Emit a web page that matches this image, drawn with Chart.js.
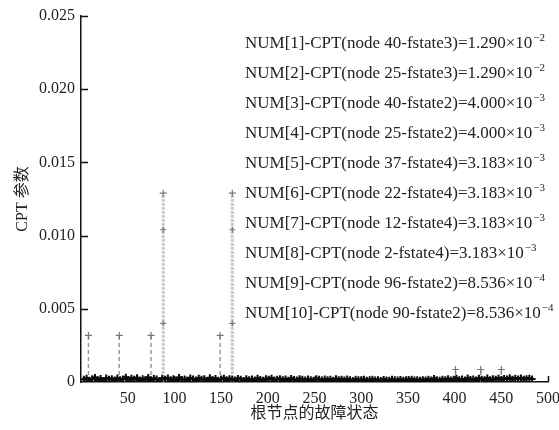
<!DOCTYPE html>
<html lang="zh">
<head>
    <meta charset="utf-8">
    <title>CPT 参数</title>
    <script src="https://cdn.jsdelivr.net/npm/chart.js"></script>
    <style>
        html, body { margin: 0; padding: 0; background: #fff; }
        #cptChart { display: block; }
    </style>
</head>
<body>
<canvas id="cptChart" width="559" height="430"></canvas>
<script>
    // states of the root node that carry a clear CPT peak
    const spikeStates = [8, 41, 75, 88, 149, 162, 401, 428, 450];
    const spikeCPT = [3.183e-3, 3.183e-3, 3.183e-3, 1.290e-2, 3.183e-3, 1.290e-2, 8.536e-4, 8.536e-4, 8.536e-4];
    // second marker sitting on the two big stems
    const midStates = [88, 88, 162, 162];
    const midCPT = [4.000e-3, 1.040e-2, 4.000e-3, 1.040e-2];

    // the dense band of small values near zero (one reading every 3 states, units of 1e-4)
    const baseStep = 3;
    const baseCPT = [
        1.8, 2.6, 1.2, 2.2, 3.0, 1.5, 2.4, 1.1, 2.8, 1.9,
        2.3, 1.4, 2.7, 1.6, 2.1, 3.2, 1.3, 2.5, 1.8, 2.9,
        1.2, 2.2, 1.7, 3.1, 1.4, 2.4, 2.0, 1.1, 2.6, 1.9,
        2.8, 1.5, 2.3, 1.2, 3.0, 1.7, 2.1, 1.4, 2.7, 2.0,
        1.3, 2.5, 1.8, 2.2, 1.1, 2.9, 1.6, 2.4, 1.2, 2.0,
        2.6, 1.5, 2.2, 1.8, 1.3, 2.4, 1.9, 1.1, 2.3, 1.6,
        2.0, 1.4, 2.5, 1.7, 1.2, 2.2, 1.8, 2.6, 1.3, 1.9,
        2.3, 1.5, 2.1, 1.2, 2.4, 1.7, 1.4, 2.2, 1.9, 1.3,
        2.0, 1.6, 1.2, 2.3, 1.8, 1.4, 2.1, 1.5, 1.9, 1.2,
        2.2, 1.6, 1.8, 1.3, 2.0, 1.5, 1.1, 1.9, 1.6, 1.3,
        1.8, 1.2, 1.5, 1.9, 1.3, 1.6, 1.1, 1.7, 1.4, 1.2,
        1.8, 1.5, 1.3, 1.7, 1.2, 1.6, 1.4, 1.9, 1.3, 1.5,
        1.2, 1.6, 1.4, 1.8, 1.3, 2.4, 1.5, 1.2, 1.9, 1.6,
        2.2, 1.4, 1.8, 2.6, 1.5, 2.0, 1.3, 2.7, 1.7, 2.1,
        1.4, 2.5, 1.9, 1.6, 2.8, 1.5, 2.2, 1.8, 2.6, 1.7,
        2.4, 2.0, 2.9, 1.8, 2.5, 2.1, 2.7, 1.9, 2.3, 2.6,
        2.0
    ];

    // right-hand text list
    const legendNodes = ['node 40-fstate3', 'node 25-fstate3', 'node 40-fstate2', 'node 25-fstate2', 'node 37-fstate4',
                         'node 22-fstate4', 'node 12-fstate4', 'node 2-fstate4', 'node 96-fstate2', 'node 90-fstate2'];
    const legendValues = ['1.290', '1.290', '4.000', '4.000', '3.183', '3.183', '3.183', '3.183', '8.536', '8.536'];
    const legendExps = ['\u22122', '\u22122', '\u22123', '\u22123', '\u22123', '\u22123', '\u22123', '\u22123', '\u22124', '\u22124'];

    const yTicks = [0, 0.005, 0.010, 0.015, 0.020, 0.025];
    const xTicks = [50, 100, 150, 200, 250, 300, 350, 400, 450, 500];

    const serif = "'Liberation Serif', 'Noto Sans CJK SC', serif";

    // build stem data: (x,0) -> (x,h) then a gap
    function stems(keep) {
        const pts = [];
        spikeStates.forEach((s, i) => {
            if (!keep(spikeCPT[i])) return;
            pts.push({x: s, y: 0}, {x: s, y: spikeCPT[i]}, {x: s, y: null});
        });
        return pts;
    }
    const baseData = baseCPT.map((v, i) => ({x: (i + 1) * baseStep, y: v * 1e-4}));
    const midData = midStates.map((s, i) => ({x: s, y: midCPT[i]}));

    // inward tick marks + the text list
    const extras = {
        id: 'extras',
        afterDraw(chart) {
            const c = chart.ctx;
            const xs = chart.scales.x, ys = chart.scales.y;
            const area = chart.chartArea;
            c.save();
            c.strokeStyle = '#111';
            c.lineWidth = 1.5;
            yTicks.forEach(v => {
                if (v === 0) return;
                const y = Math.round(ys.getPixelForValue(v)) + 0.5;
                c.beginPath(); c.moveTo(area.left, y); c.lineTo(area.left + 7, y); c.stroke();
            });
            xTicks.forEach(v => {
                const x = Math.round(xs.getPixelForValue(v)) + 0.5;
                c.beginPath(); c.moveTo(x, area.bottom); c.lineTo(x, area.bottom - 6); c.stroke();
            });

            c.fillStyle = '#222';
            c.textBaseline = 'middle';
            c.textAlign = 'left';
            legendNodes.forEach((node, i) => {
                const y = 44 + i * 30;
                const main = 'NUM[' + (i + 1) + ']-CPT(' + node + ')=' + legendValues[i] + '\u00d710';
                c.font = '17px ' + serif;
                c.fillText(main, 245, y);
                const w = c.measureText(main).width;
                c.font = '11px ' + serif;
                c.fillText(legendExps[i], 245 + w + 1, y - 6);
            });
            c.restore();
        }
    };

    new Chart(document.getElementById('cptChart'), {
        type: 'line',
        data: {
            datasets: [{
                label: 'base',
                data: baseData,
                borderColor: '#0a0a0a',
                borderWidth: 2.8,
                pointStyle: 'cross',
                pointRadius: 3.5,
                pointBorderColor: '#0a0a0a',
                pointBorderWidth: 2
            }, {
                label: 'mid',
                data: midData,
                showLine: false,
                pointStyle: 'cross',
                pointRadius: 3,
                pointBorderColor: '#777',
                pointBorderWidth: 1.2
            }, {
                label: 'big stems',
                data: stems(v => v > 0.01),
                borderColor: '#cacaca',
                borderWidth: 3,
                borderDash: [3, 1],
                spanGaps: false,
                pointStyle: 'cross',
                pointRadius: ctx => (ctx.raw && ctx.raw.y > 0 ? 3.5 : 0),
                pointBorderColor: '#777',
                pointBorderWidth: 1.2
            }, {
                label: 'small stems',
                data: stems(v => v <= 0.01),
                borderColor: '#9a9a9a',
                borderWidth: 1.5,
                borderDash: [4, 3],
                spanGaps: false,
                pointStyle: 'cross',
                pointRadius: ctx => (ctx.raw && ctx.raw.y > 0 ? 3.5 : 0),
                pointBorderColor: '#777',
                pointBorderWidth: 1.2
            }]
        },
        options: {
            responsive: false,
            animation: false,
            devicePixelRatio: 1,
            layout: { padding: { left: 0, right: 11, top: 16, bottom: 0 } },
            plugins: { legend: { display: false }, tooltip: { enabled: false } },
            scales: {
                x: {
                    type: 'linear',
                    min: 0,
                    max: 500,
                    afterBuildTicks: s => { s.ticks = xTicks.map(v => ({value: v})); },
                    afterFit: s => { s.height = 48; s.paddingLeft = 0; s.paddingRight = 0; },
                    ticks: {
                        font: { family: serif, size: 16 },
                        color: '#222',
                        padding: 7,
                        maxRotation: 0
                    },
                    grid: { drawOnChartArea: false, drawTicks: false },
                    border: { display: true, color: '#111', width: 1.5 },
                    title: {
                        display: true,
                        text: '根节点的故障状态',
                        font: { family: serif, size: 16 },
                        color: '#222',
                        padding: { top: 0, bottom: 7 }
                    }
                },
                y: {
                    min: 0,
                    max: 0.025,
                    afterBuildTicks: s => { s.ticks = yTicks.map(v => ({value: v})); },
                    afterFit: s => { s.width = 81; s.paddingTop = 0; s.paddingBottom = 0; },
                    ticks: {
                        font: { family: serif, size: 16 },
                        color: '#222',
                        padding: 6,
                        callback: v => (v === 0 ? '0' : v.toFixed(3))
                    },
                    grid: { drawOnChartArea: false, drawTicks: false },
                    border: { display: true, color: '#111', width: 1.5 },
                    title: {
                        display: true,
                        text: 'CPT 参数',
                        font: { family: serif, size: 16 },
                        color: '#222',
                        padding: { top: 13, bottom: 0 }
                    }
                }
            }
        },
        plugins: [extras]
    });
</script>
</body>
</html>
